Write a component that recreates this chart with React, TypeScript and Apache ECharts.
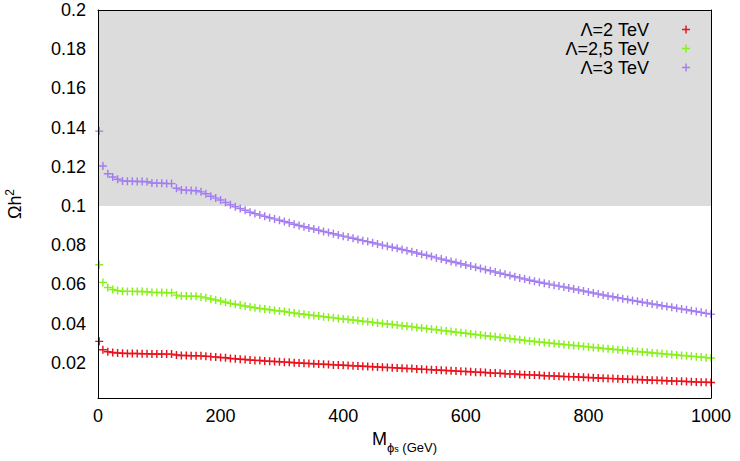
import React, { useEffect, useRef } from 'react';
import * as echarts from 'echarts';

const massGeV = [
  2, 8, 16, 24, 32, 40, 48, 56, 64, 72, 80, 88, 96, 104, 112, 120, 128, 136, 144, 152,
  160, 168, 176, 184, 192, 200, 208, 216, 224, 232, 240, 248, 256, 264, 272, 280, 288, 296, 304, 312,
  320, 328, 336, 344, 352, 360, 368, 376, 384, 392, 400, 408, 416, 424, 432, 440, 448, 456, 464, 472,
  480, 488, 496, 504, 512, 520, 528, 536, 544, 552, 560, 568, 576, 584, 592, 600, 608, 616, 624, 632,
  640, 648, 656, 664, 672, 680, 688, 696, 704, 712, 720, 728, 736, 744, 752, 760, 768, 776, 784, 792,
  800, 808, 816, 824, 832, 840, 848, 856, 864, 872, 880, 888, 896, 904, 912, 920, 928, 936, 944, 952,
  960, 968, 976, 984, 992, 1000,
];

const omegaL2 = [
  0.0309, 0.0266, 0.0256, 0.0252, 0.0250, 0.0248, 0.0247, 0.0247, 0.0247, 0.0246, 0.0246, 0.0245, 0.0245, 0.0245, 0.0244, 0.0244, 0.0239, 0.0237, 0.0237, 0.0236,
  0.0236, 0.0235, 0.0233, 0.0231, 0.0229, 0.0227, 0.0225, 0.0222, 0.0220, 0.0218, 0.0216, 0.0214, 0.0212, 0.0211, 0.0209, 0.0208, 0.0206, 0.0205, 0.0203, 0.0202,
  0.0200, 0.0199, 0.0197, 0.0196, 0.0195, 0.0193, 0.0192, 0.0191, 0.0189, 0.0188, 0.0187, 0.0186, 0.0184, 0.0183, 0.0182, 0.0181, 0.0179, 0.0178, 0.0177, 0.0176,
  0.0175, 0.0173, 0.0172, 0.0171, 0.0170, 0.0168, 0.0167, 0.0166, 0.0164, 0.0163, 0.0162, 0.0160, 0.0159, 0.0158, 0.0156, 0.0155, 0.0154, 0.0152, 0.0151, 0.0150,
  0.0148, 0.0147, 0.0146, 0.0144, 0.0143, 0.0142, 0.0140, 0.0139, 0.0138, 0.0137, 0.0136, 0.0134, 0.0133, 0.0132, 0.0131, 0.0130, 0.0129, 0.0128, 0.0127, 0.0126,
  0.0125, 0.0123, 0.0122, 0.0121, 0.0120, 0.0119, 0.0118, 0.0117, 0.0116, 0.0115, 0.0114, 0.0113, 0.0112, 0.0111, 0.0110, 0.0109, 0.0108, 0.0107, 0.0106, 0.0105,
  0.0104, 0.0103, 0.0102, 0.0101, 0.0100, 0.0099,
];

const omegaL25 = [
  0.0700, 0.0610, 0.0584, 0.0574, 0.0568, 0.0565, 0.0564, 0.0564, 0.0563, 0.0563, 0.0562, 0.0559, 0.0558, 0.0558, 0.0557, 0.0557, 0.0545, 0.0541, 0.0540, 0.0539,
  0.0539, 0.0536, 0.0531, 0.0525, 0.0520, 0.0515, 0.0509, 0.0503, 0.0498, 0.0494, 0.0489, 0.0484, 0.0481, 0.0477, 0.0474, 0.0470, 0.0467, 0.0464, 0.0461, 0.0457,
  0.0454, 0.0450, 0.0447, 0.0444, 0.0441, 0.0438, 0.0435, 0.0432, 0.0429, 0.0426, 0.0423, 0.0421, 0.0418, 0.0415, 0.0412, 0.0409, 0.0406, 0.0403, 0.0400, 0.0398,
  0.0395, 0.0392, 0.0389, 0.0386, 0.0383, 0.0380, 0.0377, 0.0374, 0.0371, 0.0368, 0.0365, 0.0362, 0.0359, 0.0356, 0.0353, 0.0350, 0.0347, 0.0344, 0.0341, 0.0338,
  0.0335, 0.0332, 0.0329, 0.0326, 0.0323, 0.0320, 0.0317, 0.0314, 0.0311, 0.0308, 0.0306, 0.0303, 0.0301, 0.0298, 0.0296, 0.0293, 0.0291, 0.0288, 0.0286, 0.0283,
  0.0281, 0.0278, 0.0276, 0.0273, 0.0271, 0.0269, 0.0266, 0.0264, 0.0262, 0.0259, 0.0257, 0.0255, 0.0253, 0.0250, 0.0248, 0.0246, 0.0244, 0.0242, 0.0239, 0.0237,
  0.0235, 0.0233, 0.0231, 0.0229, 0.0226, 0.0224,
];

const omegaL3 = [
  0.1382, 0.1204, 0.1164, 0.1148, 0.1136, 0.1128, 0.1126, 0.1126, 0.1125, 0.1125, 0.1124, 0.1117, 0.1116, 0.1116, 0.1115, 0.1114, 0.1090, 0.1082, 0.1080, 0.1079,
  0.1078, 0.1072, 0.1062, 0.1050, 0.1040, 0.1030, 0.1018, 0.1006, 0.0996, 0.0987, 0.0978, 0.0968, 0.0961, 0.0954, 0.0947, 0.0940, 0.0934, 0.0927, 0.0921, 0.0914,
  0.0907, 0.0900, 0.0894, 0.0888, 0.0882, 0.0876, 0.0870, 0.0864, 0.0858, 0.0852, 0.0846, 0.0841, 0.0835, 0.0829, 0.0823, 0.0818, 0.0812, 0.0806, 0.0800, 0.0795,
  0.0789, 0.0784, 0.0778, 0.0772, 0.0766, 0.0760, 0.0754, 0.0748, 0.0742, 0.0735, 0.0729, 0.0723, 0.0717, 0.0711, 0.0705, 0.0699, 0.0693, 0.0687, 0.0681, 0.0675,
  0.0669, 0.0663, 0.0657, 0.0651, 0.0645, 0.0639, 0.0633, 0.0627, 0.0621, 0.0616, 0.0611, 0.0606, 0.0601, 0.0596, 0.0591, 0.0586, 0.0581, 0.0576, 0.0571, 0.0566,
  0.0561, 0.0556, 0.0551, 0.0546, 0.0541, 0.0537, 0.0532, 0.0527, 0.0523, 0.0518, 0.0514, 0.0509, 0.0505, 0.0500, 0.0496, 0.0491, 0.0487, 0.0483, 0.0478, 0.0474,
  0.0470, 0.0465, 0.0461, 0.0457, 0.0452, 0.0448,
];

const seriesNames = ['Λ=2 TeV', 'Λ=2,5 TeV', 'Λ=3 TeV'];
const seriesColors = ['#e8101a', '#86f018', '#a27cf0'];
const yTickValues = [0.02, 0.04, 0.06, 0.08, 0.1, 0.12, 0.14, 0.16, 0.18, 0.2];
const excludedBand = [0.1, 0.2];

const PLUS = 'path://M0,4.1H10V5.9H0Z M4.1,0H5.9V10H4.1Z';
const FONT = "'Liberation Sans', Arial, Helvetica, sans-serif";
const FS = 18;

function pairs(xs: number[], ys: number[]) {
  return xs.map((x, i) => [x, ys[i]]);
}

export default function App() {
  const ref = useRef<HTMLDivElement>(null);

  useEffect(() => {
    if (!ref.current) return;
    const chart = echarts.init(ref.current, null, { renderer: 'svg' });
    const allSeries = [omegaL2, omegaL25, omegaL3];

    const option: any = {
      animation: false,
      backgroundColor: '#ffffff',
      textStyle: { fontFamily: FONT },
      grid: { left: 98, right: 29, top: 10, bottom: 63, containLabel: false, outerBoundsMode: 'none' },
      legend: {
        orient: 'vertical',
        align: 'right',
        right: 45,
        top: 15,
        itemGap: 0,
        itemWidth: 64,
        itemHeight: 8,
        selectedMode: false,
        textStyle: { fontFamily: FONT, fontSize: FS, color: '#000', lineHeight: 19 },
        data: seriesNames.map((n) => ({ name: n, icon: PLUS })),
      },
      xAxis: [
        {
          type: 'value',
          min: 0,
          max: 1000,
          interval: 200,
          z: 10,
          name: '{m|M}{p|ϕ}{s|s}{g| (GeV)}',
          nameLocation: 'middle',
          nameGap: 29,
          nameTextStyle: {
            fontFamily: FONT,
            color: '#000',
            lineHeight: 26,
            rich: {
              m: { fontFamily: FONT, fontSize: FS, color: '#000', verticalAlign: 'top', lineHeight: 24 },
              p: { fontFamily: FONT, fontSize: 13, color: '#000', verticalAlign: 'bottom', lineHeight: 16 },
              s: { fontFamily: FONT, fontSize: 9, color: '#000', verticalAlign: 'bottom', lineHeight: 10 },
              g: { fontFamily: FONT, fontSize: 13, color: '#000', verticalAlign: 'bottom', lineHeight: 16 },
            },
          },
          axisLine: { show: true, onZero: false, lineStyle: { color: '#000', width: 1 } },
          axisTick: { show: false },
          splitLine: { show: false },
          axisLabel: {
            color: '#000',
            fontSize: FS,
            fontFamily: FONT,
            margin: 9,
            formatter: (v: number) => String(v),
          },
        },
        {
          type: 'value',
          position: 'top',
          min: 0,
          max: 1000,
          z: 10,
          axisLine: { show: true, onZero: false, lineStyle: { color: '#000', width: 1 } },
          axisTick: { show: false },
          axisLabel: { show: false },
          splitLine: { show: false },
        },
      ],
      yAxis: [
        {
          type: 'value',
          min: 0.002,
          max: 0.2,
          z: 10,
          name: '{a|Ωh}{b|2}',
          nameLocation: 'middle',
          nameRotate: 90,
          nameGap: 74,
          nameTextStyle: {
            fontFamily: FONT,
            color: '#000',
            lineHeight: 22,
            rich: {
              a: { fontFamily: FONT, fontSize: FS, color: '#000', verticalAlign: 'bottom', lineHeight: 20 },
              b: { fontFamily: FONT, fontSize: 12, color: '#000', verticalAlign: 'top', lineHeight: 12 },
            },
          },
          axisLine: { show: true, onZero: false, lineStyle: { color: '#000', width: 1 } },
          axisTick: { show: false },
          splitLine: { show: false },
          axisLabel: {
            color: '#000',
            fontSize: FS,
            fontFamily: FONT,
            lineHeight: 15,
            margin: 12,
            customValues: yTickValues,
            formatter: (v: number) => String(Math.round(v * 100) / 100),
          },
        },
        {
          type: 'value',
          position: 'right',
          min: 0.002,
          max: 0.2,
          z: 10,
          axisLine: { show: true, onZero: false, lineStyle: { color: '#000', width: 1 } },
          axisTick: { show: false },
          axisLabel: { show: false },
          splitLine: { show: false },
        },
      ],
      series: [
        {
          type: 'scatter',
          name: '__band',
          data: [],
          z: 1,
          silent: true,
          markArea: {
            silent: true,
            itemStyle: { color: '#dcdcdc', borderWidth: 0 },
            data: [[{ yAxis: excludedBand[0] }, { yAxis: excludedBand[1] }]],
          },
        },
        ...allSeries.map((ys, i) => ({
          type: 'scatter',
          name: seriesNames[i],
          data: pairs(massGeV, ys),
          symbol: PLUS,
          symbolSize: 8,
          z: 3,
          itemStyle: { color: seriesColors[i], opacity: 1 },
        })),
      ],
    };

    chart.setOption(option);
    return () => {
      chart.dispose();
    };
  }, []);

  return (
    <div
      ref={ref}
      style={{ position: 'fixed', left: 0, top: 0, width: 740, height: 461, background: '#fff' }}
    />
  );
}
